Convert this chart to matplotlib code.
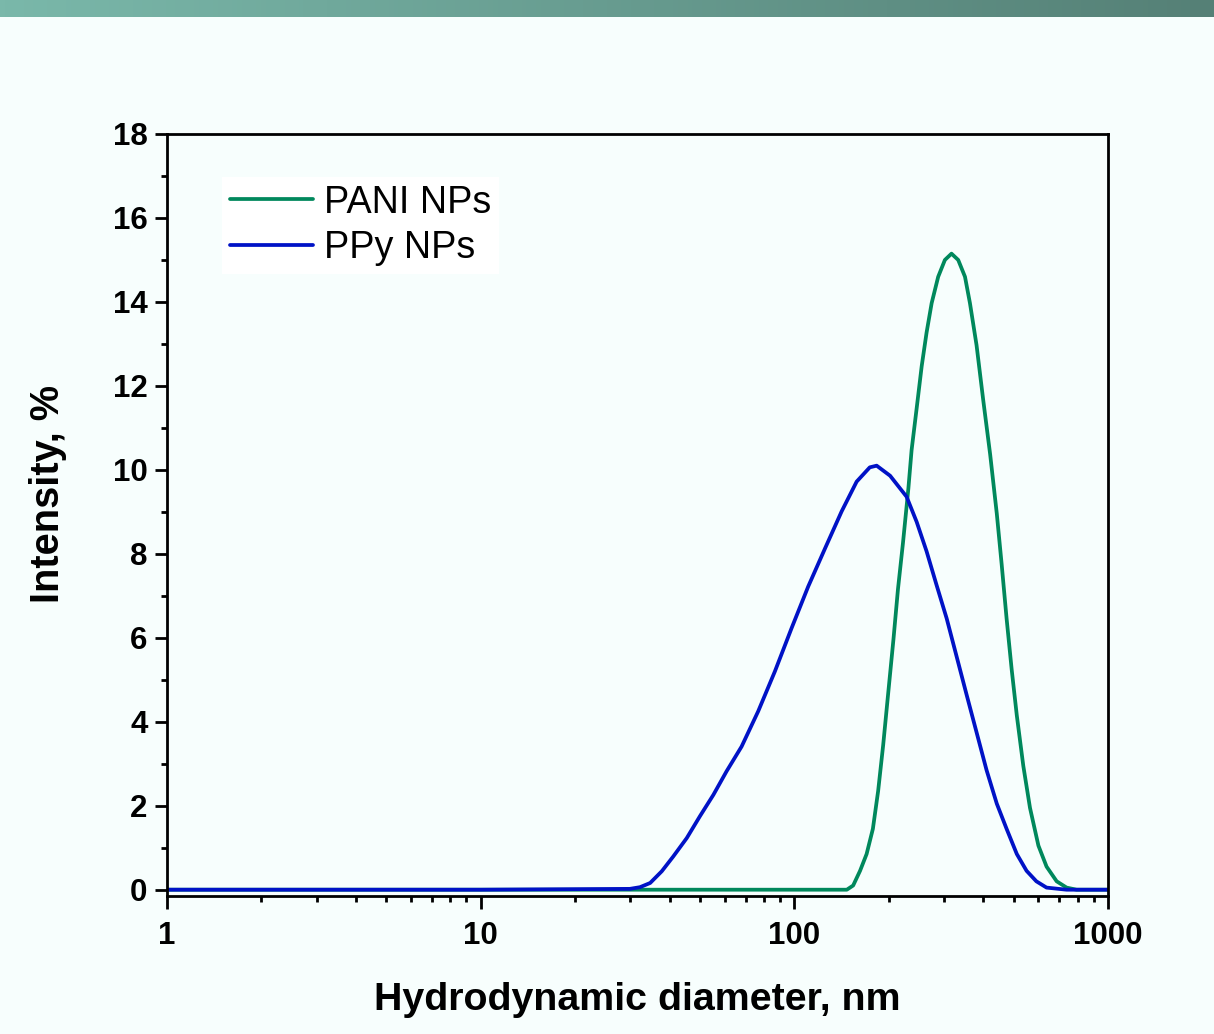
import numpy as np
import matplotlib
matplotlib.use("Agg")
import matplotlib.pyplot as plt

# ---- data ----
pani_d = [1, 10, 100, 147, 154, 162, 170, 178, 185, 192, 199, 207, 214, 222, 231, 236.5,
          245.5, 254.7, 264, 274, 287.5, 302, 317, 333, 350, 363, 381, 400, 421, 442, 458,
          475, 493, 512, 537, 564, 600, 637, 686, 738, 794, 1000]
pani_i = [0, 0, 0, 0, 0.10, 0.45, 0.85, 1.45, 2.35, 3.45, 4.65, 5.96, 7.16, 8.26, 9.56, 10.47,
          11.47, 12.47, 13.27, 13.97, 14.60, 15.00, 15.15, 15.00, 14.60, 13.97, 12.97, 11.67,
          10.37, 8.96, 7.76, 6.46, 5.25, 4.15, 2.95, 1.95, 1.05, 0.55, 0.20, 0.05, 0, 0]

ppy_d = [1, 10, 29.9, 32.2, 34.7, 37.8, 41.1, 45.4, 50.0, 55.2, 60.8, 67.9, 76.7, 86.7, 98,
         110.7, 125.3, 141.5, 158, 174, 183, 202, 228, 245.5, 264, 284, 306, 329, 354, 381,
         410, 442, 475, 512, 550, 591, 637, 738, 1000]
ppy_i = [0, 0, 0.02, 0.06, 0.16, 0.44, 0.79, 1.23, 1.75, 2.26, 2.82, 3.41, 4.25, 5.20, 6.23,
         7.22, 8.13, 9.01, 9.72, 10.06, 10.10, 9.86, 9.36, 8.76, 8.06, 7.26, 6.46, 5.56, 4.65,
         3.75, 2.85, 2.05, 1.45, 0.85, 0.45, 0.20, 0.05, 0, 0]

series_labels = ["PANI NPs", "PPy NPs"]
y_ticks = [0, 2, 4, 6, 8, 10, 12, 14, 16, 18]
x_ticks = [1, 10, 100, 1000]
x_ticklabels = ["1", "10", "100", "1000"]

BG = "#F7FEFD"
GREEN = "#00885C"
BLUE = "#0012C6"

plt.rcParams["font.family"] = ["Liberation Sans", "DejaVu Sans"]

fig = plt.figure(figsize=(12.14, 10.34), dpi=100, facecolor=BG)

# top gradient bar
bar = fig.add_axes([0, 1 - 17 / 1034, 1, 17 / 1034])
grad = np.linspace(0, 1, 256)[None, :]
c0 = np.array([122, 184, 170]) / 255
c1 = np.array([85, 128, 118]) / 255
img = c0[None, None, :] * (1 - grad[..., None]) + c1[None, None, :] * grad[..., None]
bar.imshow(img, aspect="auto", extent=[0, 1, 0, 1])
bar.axis("off")

ax = fig.add_axes([167 / 1214, 1 - 896 / 1034, (1108 - 167) / 1214, (896 - 134) / 1034])
ax.set_facecolor(BG)

ax.plot(pani_d, pani_i, color=GREEN, lw=2.7, label=series_labels[0],
        solid_joinstyle="round", solid_capstyle="round")
ax.plot(ppy_d, ppy_i, color=BLUE, lw=2.7, label=series_labels[1],
        solid_joinstyle="round", solid_capstyle="round")

ax.set_xscale("log")
ax.set_xlim(1, 1000)
ax.set_ylim(-0.15, 18)

ax.set_xticks(x_ticks)
ax.set_xticklabels(x_ticklabels)
ax.xaxis.set_minor_locator(matplotlib.ticker.LogLocator(base=10, subs=np.arange(2, 10)))
ax.xaxis.set_minor_formatter(matplotlib.ticker.NullFormatter())
ax.set_yticks(y_ticks)
ax.set_yticks(np.arange(1, 18, 2), minor=True)

for s in ax.spines.values():
    s.set_linewidth(2.0)

ax.tick_params(which="major", direction="out", length=9, width=2.0, labelsize=22.5,
               top=False, right=False)
ax.tick_params(axis="x", which="major", pad=9)
ax.tick_params(axis="y", which="major", pad=5)
ax.tick_params(which="minor", direction="out", length=4.5, width=2.0, top=False, right=False)
for lab in ax.get_xticklabels() + ax.get_yticklabels():
    lab.set_fontweight("bold")

ax.set_xlabel("Hydrodynamic diameter, nm", fontsize=28.4, fontweight="bold", labelpad=22)
ax.set_ylabel("Intensity, %", fontsize=28.6, fontweight="bold")
ax.yaxis.set_label_coords(-0.106, 0.528)

leg = ax.legend(loc="upper left", bbox_to_anchor=(0.0585, 0.9436), fontsize=27.2,
                frameon=True, fancybox=False, handlelength=2.2, handletextpad=0.3,
                borderpad=0.2, labelspacing=0.25, borderaxespad=0)
leg.get_frame().set_facecolor("white")
leg.get_frame().set_edgecolor("none")
leg.get_frame().set_alpha(1)

fig.savefig("out.png", dpi=100, facecolor=BG)
